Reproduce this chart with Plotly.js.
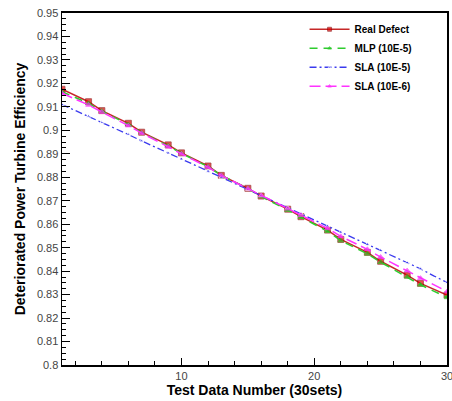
<!DOCTYPE html>
<html>
<head>
<meta charset="utf-8">
<script src="https://cdn.plot.ly/plotly-3.0.1.min.js"></script>
<style>html,body{margin:0;padding:0;background:#fff;}#chart{width:452px;height:401px;}</style>
</head>
<body>
<div id="chart"></div>
<script>
// Test data number 1..30
const testNumber = [1,2,3,4,5,6,7,8,9,10,11,12,13,14,15,16,17,18,19,20,21,22,23,24,25,26,27,28,29,30];

const realDefect = [0.9175,0.9150,0.9122,0.9084,0.9058,0.9030,0.8992,0.8965,0.8938,0.8904,
                    0.8876,0.8848,0.8808,0.8782,0.8753,0.8720,0.8692,0.8664,0.8632,0.8604,
                    0.8575,0.8535,0.8508,0.8480,0.8442,0.8412,0.8383,0.8348,0.8322,0.8298];

const mlp10e5 = [0.9165,0.9140,0.9115,0.9082,0.9055,0.9025,0.8990,0.8962,0.8934,0.8902,
                 0.8873,0.8845,0.8808,0.8780,0.8752,0.8718,0.8690,0.8660,0.8630,0.8600,
                 0.8570,0.8530,0.8503,0.8474,0.8438,0.8406,0.8376,0.8342,0.8315,0.8288];

const sla10e5 = [0.9110,0.9085,0.9060,0.9033,0.9008,0.8982,0.8955,0.8930,0.8903,0.8878,
                 0.8852,0.8826,0.8800,0.8774,0.8748,0.8722,0.8697,0.8670,0.8645,0.8618,
                 0.8592,0.8566,0.8540,0.8514,0.8488,0.8462,0.8436,0.8410,0.8380,0.8352];

const sla10e6 = [0.9158,0.9132,0.9108,0.9078,0.9050,0.9020,0.8988,0.8960,0.8930,0.8900,
                 0.8872,0.8843,0.8808,0.8780,0.8752,0.8722,0.8694,0.8666,0.8638,0.8610,
                 0.8582,0.8548,0.8520,0.8493,0.8460,0.8430,0.8402,0.8370,0.8342,0.8313];

const seriesNames = ["Real Defect", "MLP (10E-5)", "SLA (10E-5)", "SLA (10E-6)"];

// symbols drawn on a subset of points (skip every third point)
function sizes(s){ return testNumber.map(n => (n % 3 === 2) ? 0 : s); }

const FONT = "Liberation Sans, Arial, sans-serif";

const traces = [
  {x: testNumber, y: realDefect, name: seriesNames[0], mode: "lines+markers",
   line: {color: "#c62828", width: 1.5},
   marker: {symbol: "square", size: sizes(6), color: "#e00000", line: {color: "#800000", width: 0.8}}},
  {x: testNumber, y: mlp10e5, name: seriesNames[1], mode: "lines+markers",
   line: {color: "#2ecc2e", width: 1.5, dash: "8px,6px"},
   marker: {symbol: "triangle-up", size: sizes(5), color: "#22bb22"}},
  {x: testNumber, y: sla10e5, name: seriesNames[2], mode: "lines+markers",
   line: {color: "#3a3aee", width: 1.3, dash: "7px,3px,2px,3px"},
   marker: {symbol: "triangle-up", size: sizes(4), color: "#3a3aee"}},
  {x: testNumber, y: sla10e6, name: seriesNames[3], mode: "lines+markers",
   line: {color: "#ff33ff", width: 1.5, dash: "11px,5px"},
   marker: {symbol: "triangle-up", size: sizes(5), color: "#ee33ee"}}
];

const layout = {
  width: 452, height: 401,
  margin: {l: 62, r: 5, t: 13, b: 36, pad: 0},
  paper_bgcolor: "#fff", plot_bgcolor: "#fff",
  font: {family: FONT, size: 11, color: "#333"},
  showlegend: true,
  legend: {x: 0.63, y: 0.995, xanchor: "left", yanchor: "top",
           bgcolor: "rgba(255,255,255,0)", borderwidth: 0,
           font: {family: FONT, size: 10, color: "#000", weight: "bold"},
           itemwidth: 40, tracegroupgap: 0},
  xaxis: {
    range: [1, 30], tick0: 0, dtick: 10,
    showgrid: false, zeroline: false,
    showline: true, linecolor: "#000", linewidth: 2, mirror: true,
    ticks: "inside", ticklen: 7, tickwidth: 1, tickcolor: "#000",
    ticklabeloverflow: "allow",
    minor: {dtick: 2, tick0: 0, ticks: "inside", ticklen: 4, tickcolor: "#000", showgrid: false},
    tickfont: {family: FONT, size: 11, color: "#444"},
    title: {text: "Test Data Number (30sets)", standoff: 2,
            font: {family: FONT, size: 14, color: "#000", weight: "bold"}}
  },
  yaxis: {
    range: [0.8, 0.95], tick0: 0.8, dtick: 0.01,
    showgrid: false, zeroline: false,
    showline: true, linecolor: "#000", linewidth: 1.5, mirror: true,
    ticks: "inside", ticklen: 8, tickwidth: 1, tickcolor: "#000",
    minor: {dtick: 0.0025, tick0: 0.8, ticks: "inside", ticklen: 4, tickcolor: "#000", showgrid: false},
    tickfont: {family: FONT, size: 11, color: "#444"},
    title: {text: "Deteriorated Power Turbine Efficiency", standoff: 8,
            font: {family: FONT, size: 14, color: "#000", weight: "bold"}}
  }
};

Plotly.newPlot("chart", traces, layout, {displayModeBar: false, staticPlot: true});
</script>
</body>
</html>
